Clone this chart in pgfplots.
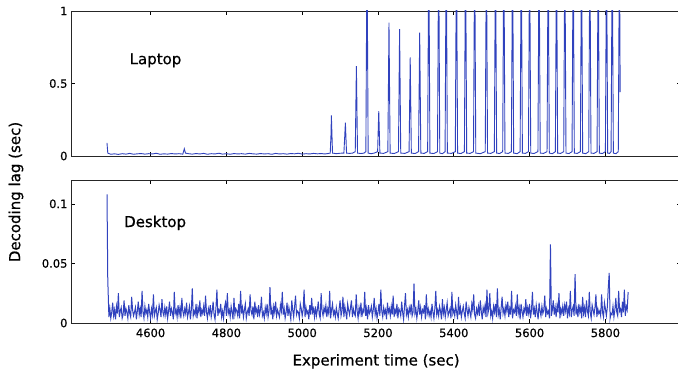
\documentclass[border=0pt]{standalone}
\usepackage{pgfplots}
\pgfplotsset{compat=1.18}
\usepackage{fontspec}
\setmainfont{DejaVu Sans}[FakeBold=0.6,AutoFakeBold=0.6]
\definecolor{lagblue}{RGB}{48,66,190}
\begin{document}
\bfseries
\begin{tikzpicture}[x=1pt,y=1pt]
\useasboundingbox (0,-371) rectangle (678,0);
\pgfplotsset{
  every axis/.append style={
    scale only axis, width=610.2pt,
    xmin=4390, xmax=6000,
    xtick={4600,4800,5000,5200,5400,5600,5800},
    tick align=inside,
    tick style={black, line width=0.6pt},
    axis line style={black!85, line width=0.8pt},
    tick label style={font=\bfseries\fontsize{11.5}{13}\selectfont},
    xticklabel style={yshift=-2pt},
    /pgf/number format/assume math mode=true,
    /pgf/number format/1000 sep={},
    scaled x ticks=false, scaled y ticks=false,
    major tick length=4pt,
  }
}
\begin{axis}[at={(71pt,-156pt)}, anchor=south west, height=145pt,
  ymin=0, ymax=1, ytick={0,0.5,1}, xticklabels={}]
\addplot[lagblue, line width=0.9pt, no marks] coordinates {
(4485,0.090) (4487,0.020) (4495,0.012) (4505,0.015) (4515,0.011) (4525,0.016) (4535,0.013) (4545,0.018) (4555,0.012) (4565,0.015) (4575,0.017) (4585,0.013) (4595,0.016) (4605,0.014) (4615,0.019) (4625,0.012) (4635,0.015) (4645,0.013) (4655,0.017) (4665,0.014) (4675,0.016) (4685,0.013) (4689,0.050) (4692,0.020) (4700,0.016) (4710,0.013) (4720,0.017) (4730,0.014) (4740,0.018) (4750,0.012) (4760,0.016) (4770,0.014) (4780,0.019) (4790,0.013) (4800,0.016) (4810,0.012) (4820,0.017) (4830,0.014) (4840,0.016) (4850,0.013) (4860,0.018) (4870,0.015) (4880,0.013) (4890,0.017) (4900,0.014) (4910,0.016) (4920,0.012) (4930,0.018) (4940,0.014) (4950,0.016) (4960,0.013) (4970,0.017) (4980,0.015) (4990,0.019) (5000,0.013) (5010,0.016) (5020,0.014) (5030,0.018) (5040,0.015) (5050,0.017) (5060,0.014) (5070,0.018)
(5074,0.02) (5076,0.15) (5077,0.28) (5080,0.02) (5090,0.016) (5100,0.019) (5110,0.02) (5114,0.23) (5117,0.02) (5125,0.018) (5133,0.02) (5140,0.03) (5143,0.62) (5146,0.02) (5155,0.017) (5163,0.02) (5168,0.03) (5171,1.5) (5174,0.02) (5182,0.016) (5190,0.02) (5199,0.03) (5202,0.31) (5205,0.02) (5215,0.018) (5226,0.03) (5229,0.92) (5232,0.02) (5243,0.017) (5254,0.03) (5257,0.875) (5260,0.02) (5271,0.018) (5282,0.03) (5285,0.68) (5288,0.02) (5298,0.017) (5307,0.03) (5310,0.85) (5313,0.02) (5322,0.018) (5331,0.03) (5334,1.5) (5337,0.02)
(5347,0.017) (5357,0.03) (5360,1.5) (5363,0.02) (5370,0.016) (5377,0.03) (5380,1.5) (5383,0.02) (5394,0.018) (5404,0.03) (5407,1.5) (5410,0.02) (5419,0.017) (5428,0.03) (5431,1.5) (5434,0.02) (5443,0.018) (5452,0.03) (5455,1.5) (5458,0.02) (5470,0.016) (5483,0.03) (5486,1.5) (5489,0.02) (5498,0.018) (5507,0.03) (5510,1.5) (5513,0.02) (5521,0.017) (5529,0.03) (5532,1.5) (5535,0.02) (5544,0.018) (5552,0.03) (5555,1.5) (5558,0.02) (5567,0.016) (5575,0.03) (5578,1.5) (5581,0.02) (5589,0.018) (5597,0.03) (5600,1.5) (5603,0.02) (5612,0.017) (5622,0.03) (5625,1.5) (5628,0.02) (5637,0.018) (5646,0.03) (5649,1.5) (5652,0.02) (5660,0.016) (5668,0.03) (5671,1.5) (5674,0.02) (5682,0.018) (5690,0.03) (5693,1.5) (5696,0.02) (5704,0.017) (5712,0.03) (5715,1.5) (5718,0.02) (5726,0.018) (5734,0.03) (5737,1.5) (5740,0.02) (5748,0.016) (5756,0.03) (5759,1.5) (5762,0.02) (5770,0.018) (5778,0.03) (5781,1.5) (5784,0.02) (5792,0.017) (5800,0.03) (5803,1.5) (5806,0.02) (5811,0.018) (5815,0.03) (5818,1.5) (5821,0.02) (5828,0.016) (5834,0.03) (5837,1.5) (5839,0.44)
};
\node[font=\bfseries\fontsize{15}{17}\selectfont] at (axis cs:4613,0.66) {Laptop};
\end{axis}
\begin{axis}[at={(71pt,-323pt)}, anchor=south west, height=143pt,
  ymin=0, ymax=0.12, ytick={0,0.05,0.1},
  yticklabels={0,0.05,0.1},
  xlabel={Experiment time (sec)},
  xlabel style={font=\bfseries\fontsize{15}{17}\selectfont, yshift=-10pt}]
\addplot[lagblue, line width=1.0pt, no marks] coordinates {
(4485,0.108) (4487,0.037)
(4490,0.005)(4492.5,0.012)(4495,0.004)(4497.5,0.009)(4500,0.017)(4502.5,0.006)(4505,0.011)(4507.5,0.003)(4510,0.014)(4512.5,0.008)(4515,0.025)(4517.5,0.005)(4520,0.010)(4522.5,0.013)(4525,0.004)(4527.5,0.007)(4530,0.019)(4532.5,0.006)(4535,0.012)(4537.5,0.009)
(4540,0.004)(4542.5,0.015)(4545,0.008)(4547.5,0.005)(4550,0.022)(4552.5,0.011)(4555,0.006)(4557.5,0.009)(4560,0.013)(4562.5,0.003)(4565,0.010)(4567.5,0.018)(4570,0.007)(4572.5,0.012)(4575,0.005)(4577.5,0.027)(4580,0.009)(4582.5,0.004)(4585,0.014)(4587.5,0.008)
(4590,0.011)(4592.5,0.005)(4595,0.016)(4597.5,0.009)(4600,0.004)(4602.5,0.012)(4605,0.007)(4607.5,0.024)(4610,0.006)(4612.5,0.010)(4615,0.013)(4617.5,0.003)(4620,0.008)(4622.5,0.015)(4625,0.011)(4627.5,0.005)(4630,0.020)(4632.5,0.009)(4635,0.006)(4637.5,0.013)
(4640,0.007)(4642.5,0.014)(4645,0.004)(4647.5,0.010)(4650,0.018)(4652.5,0.006)(4655,0.012)(4657.5,0.009)(4660,0.003)(4662.5,0.026)(4665,0.008)(4667.5,0.011)(4670,0.005)(4672.5,0.015)(4675,0.007)(4677.5,0.013)(4680,0.004)(4682.5,0.021)(4685,0.010)(4687.5,0.006)
(4690,0.012)(4692.5,0.008)(4695,0.017)(4697.5,0.005)(4700,0.009)(4702.5,0.014)(4705,0.003)(4707.5,0.011)(4710,0.029)(4712.5,0.006)(4715,0.010)(4717.5,0.007)(4720,0.016)(4722.5,0.004)(4725,0.013)(4727.5,0.009)(4730,0.019)(4732.5,0.005)(4735,0.011)(4737.5,0.008)
(4740,0.014)(4742.5,0.006)(4745,0.023)(4747.5,0.009)(4750,0.004)(4752.5,0.012)(4755,0.008)(4757.5,0.015)(4760,0.005)(4762.5,0.010)(4765,0.018)(4767.5,0.007)(4770,0.003)(4772.5,0.013)(4775,0.028)(4777.5,0.006)(4780,0.011)(4782.5,0.009)(4785,0.016)(4787.5,0.005)
(4790,0.010)(4792.5,0.004)(4795,0.013)(4797.5,0.017)(4800,0.006)(4802.5,0.025)(4805,0.008)(4807.5,0.011)(4810,0.005)(4812.5,0.014)(4815,0.009)(4817.5,0.003)(4820,0.021)(4822.5,0.007)(4825,0.012)(4827.5,0.010)(4830,0.006)(4832.5,0.016)(4835,0.004)(4837.5,0.027)
(4840,0.008)(4842.5,0.013)(4845,0.005)(4847.5,0.011)(4850,0.016)(4852.5,0.004)(4855,0.009)(4857.5,0.012)(4860,0.006)(4862.5,0.024)(4865,0.010)(4867.5,0.007)(4870,0.014)(4872.5,0.003)(4875,0.018)(4877.5,0.009)(4880,0.012)(4882.5,0.005)(4885,0.015)(4887.5,0.007)
(4890,0.011)(4892.5,0.022)(4895,0.006)(4897.5,0.009)(4900,0.004)(4902.5,0.013)(4905,0.008)(4907.5,0.016)(4910,0.005)(4912.5,0.010)(4915,0.030)(4917.5,0.007)(4920,0.012)(4922.5,0.003)(4925,0.014)(4927.5,0.009)(4930,0.018)(4932.5,0.006)(4935,0.011)(4937.5,0.008)
(4940,0.005)(4942.5,0.015)(4945,0.010)(4947.5,0.026)(4950,0.007)(4952.5,0.012)(4955,0.004)(4957.5,0.009)(4960,0.017)(4962.5,0.006)(4965,0.013)(4967.5,0.008)(4970,0.003)(4972.5,0.019)(4975,0.011)(4977.5,0.005)(4980,0.014)(4982.5,0.023)(4985,0.007)(4987.5,0.010)
(4990,0.009)(4992.5,0.004)(4995,0.016)(4997.5,0.012)(5000,0.006)(5002.5,0.011)(5005,0.028)(5007.5,0.005)(5010,0.013)(5012.5,0.008)(5015,0.010)(5017.5,0.003)(5020,0.015)(5022.5,0.007)(5025,0.021)(5027.5,0.009)(5030,0.012)(5032.5,0.005)(5035,0.014)(5037.5,0.006)
(5040,0.011)(5042.5,0.018)(5045,0.007)(5047.5,0.004)(5050,0.025)(5052.5,0.010)(5055,0.006)(5057.5,0.013)(5060,0.009)(5062.5,0.015)(5065,0.005)(5067.5,0.012)(5070,0.008)(5072.5,0.027)(5075,0.004)(5077.5,0.011)(5080,0.016)(5082.5,0.007)(5085,0.010)(5087.5,0.005)
(5090,0.013)(5092.5,0.008)(5095,0.004)(5097.5,0.012)(5100,0.019)(5102.5,0.006)(5105,0.010)(5107.5,0.022)(5110,0.005)(5112.5,0.014)(5115,0.009)(5117.5,0.003)(5120,0.016)(5122.5,0.011)(5125,0.007)(5127.5,0.013)(5130,0.019)(5132.5,0.005)(5135,0.012)(5137.5,0.008)
(5140,0.006)(5142.5,0.024)(5145,0.010)(5147.5,0.004)(5150,0.013)(5152.5,0.008)(5155,0.017)(5157.5,0.005)(5160,0.011)(5162.5,0.009)(5165,0.026)(5167.5,0.006)(5170,0.012)(5172.5,0.003)(5175,0.015)(5177.5,0.008)(5180,0.010)(5182.5,0.014)(5185,0.005)(5187.5,0.011)
(5190,0.021)(5192.5,0.007)(5195,0.012)(5197.5,0.004)(5200,0.009)(5202.5,0.016)(5205,0.006)(5207.5,0.028)(5210,0.010)(5212.5,0.005)(5215,0.013)(5217.5,0.008)(5220,0.011)(5222.5,0.003)(5225,0.017)(5227.5,0.009)(5230,0.012)(5232.5,0.006)(5235,0.014)(5237.5,0.007)
(5240,0.023)(5242.5,0.005)(5245,0.011)(5247.5,0.008)(5250,0.016)(5252.5,0.004)(5255,0.012)(5257.5,0.010)(5260,0.006)(5262.5,0.018)(5265,0.009)(5267.5,0.003)(5270,0.014)(5272.5,0.025)(5275,0.007)(5277.5,0.011)(5280,0.005)(5282.5,0.013)(5285,0.009)(5287.5,0.016)
(5290,0.006)(5292.5,0.009)(5295,0.033)(5297.5,0.008)(5300,0.012)(5302.5,0.004)(5305,0.010)(5307.5,0.019)(5310,0.007)(5312.5,0.013)(5315,0.005)(5317.5,0.011)(5320,0.009)(5322.5,0.015)(5325,0.003)(5327.5,0.024)(5330,0.008)(5332.5,0.012)(5335,0.006)(5337.5,0.010)
(5340,0.005)(5342.5,0.016)(5345,0.009)(5347.5,0.004)(5350,0.012)(5352.5,0.027)(5355,0.007)(5357.5,0.011)(5360,0.006)(5362.5,0.014)(5365,0.010)(5367.5,0.003)(5370,0.020)(5372.5,0.008)(5375,0.013)(5377.5,0.005)(5380,0.011)(5382.5,0.017)(5385,0.006)(5387.5,0.009)
(5390,0.012)(5392.5,0.004)(5395,0.026)(5397.5,0.008)(5400,0.011)(5402.5,0.006)(5405,0.015)(5407.5,0.009)(5410,0.003)(5412.5,0.022)(5415,0.007)(5417.5,0.013)(5420,0.005)(5422.5,0.010)(5425,0.014)(5427.5,0.008)(5430,0.004)(5432.5,0.018)(5435,0.011)(5437.5,0.006)
(5440,0.013)(5442.5,0.009)(5445,0.005)(5447.5,0.016)(5450,0.011)(5452.5,0.024)(5455,0.007)(5457.5,0.004)(5460,0.012)(5462.5,0.008)(5465,0.014)(5467.5,0.006)(5470,0.019)(5472.5,0.010)(5475,0.003)(5477.5,0.013)(5480,0.009)(5482.5,0.015)(5485,0.005)(5487.5,0.028)
(5490,0.008)(5492.5,0.012)(5495,0.025)(5497.5,0.006)(5500,0.010)(5502.5,0.004)(5505,0.014)(5507.5,0.009)(5510,0.016)(5512.5,0.005)(5515,0.029)(5517.5,0.007)(5520,0.011)(5522.5,0.003)(5525,0.013)(5527.5,0.022)(5530,0.008)(5532.5,0.012)(5535,0.006)(5537.5,0.015)
(5540,0.010)(5542.5,0.018)(5545,0.005)(5547.5,0.012)(5550,0.007)(5552.5,0.027)(5555,0.004)(5557.5,0.011)(5560,0.009)(5562.5,0.014)(5565,0.006)(5567.5,0.024)(5570,0.008)(5572.5,0.013)(5575,0.003)(5577.5,0.016)(5580,0.010)(5582.5,0.005)(5585,0.012)(5587.5,0.009)
(5590,0.020)(5592.5,0.006)(5595,0.013)(5597.5,0.008)(5600,0.016)(5602.5,0.004)(5605,0.011)(5607.5,0.026)(5610,0.007)(5612.5,0.012)(5615,0.005)(5617.5,0.015)(5620,0.009)(5622.5,0.003)(5625,0.017)(5627.5,0.010)(5630,0.006)(5632.5,0.014)(5635,0.008)(5637.5,0.011)
(5640,0.023)(5642.5,0.005)(5645,0.012)(5647.5,0.008)(5650,0.010)(5652.5,0.004)(5655,0.066)(5657.5,0.006)(5660,0.011)(5662.5,0.019)(5665,0.007)(5667.5,0.013)(5670,0.005)(5672.5,0.015)(5675,0.009)(5677.5,0.025)(5680,0.004)(5682.5,0.012)(5685,0.008)(5687.5,0.014)
(5690,0.006)(5692.5,0.015)(5695,0.010)(5697.5,0.018)(5700,0.004)(5702.5,0.012)(5705,0.008)(5707.5,0.027)(5710,0.005)(5712.5,0.011)(5715,0.014)(5717.5,0.006)(5720,0.041)(5722.5,0.007)(5725,0.012)(5727.5,0.005)(5730,0.016)(5732.5,0.009)(5735,0.013)(5737.5,0.004)
(5740,0.022)(5742.5,0.008)(5745,0.013)(5747.5,0.005)(5750,0.019)(5752.5,0.010)(5755,0.006)(5757.5,0.026)(5760,0.009)(5762.5,0.004)(5765,0.015)(5767.5,0.011)(5770,0.007)(5772.5,0.013)(5775,0.024)(5777.5,0.005)(5780,0.012)(5782.5,0.008)(5785,0.010)(5787.5,0.006)
(5790,0.024)(5792.5,0.009)(5795,0.005)(5797.5,0.017)(5800,0.012)(5802.5,0.006)(5805,0.013)(5807.5,0.029)(5810,0.042)(5812.5,0.004)(5815,0.008)(5817.5,0.007)(5820,0.014)(5822.5,0.005)(5825,0.011)(5827.5,0.021)(5830,0.009)(5832.5,0.006)(5835,0.027)(5837.5,0.010)
(5840,0.012)(5842.5,0.005)(5845,0.018)(5847.5,0.009)(5850,0.028)(5852.5,0.006)(5855,0.014)(5857.5,0.011)(5860,0.026)
};
\node[font=\bfseries\fontsize{15}{17}\selectfont] at (axis cs:4612,0.084) {Desktop};
\end{axis}
\node[rotate=90, font=\bfseries\fontsize{15}{17}\selectfont] at (16,-192) {Decoding lag (sec)};
\end{tikzpicture}
\end{document}
